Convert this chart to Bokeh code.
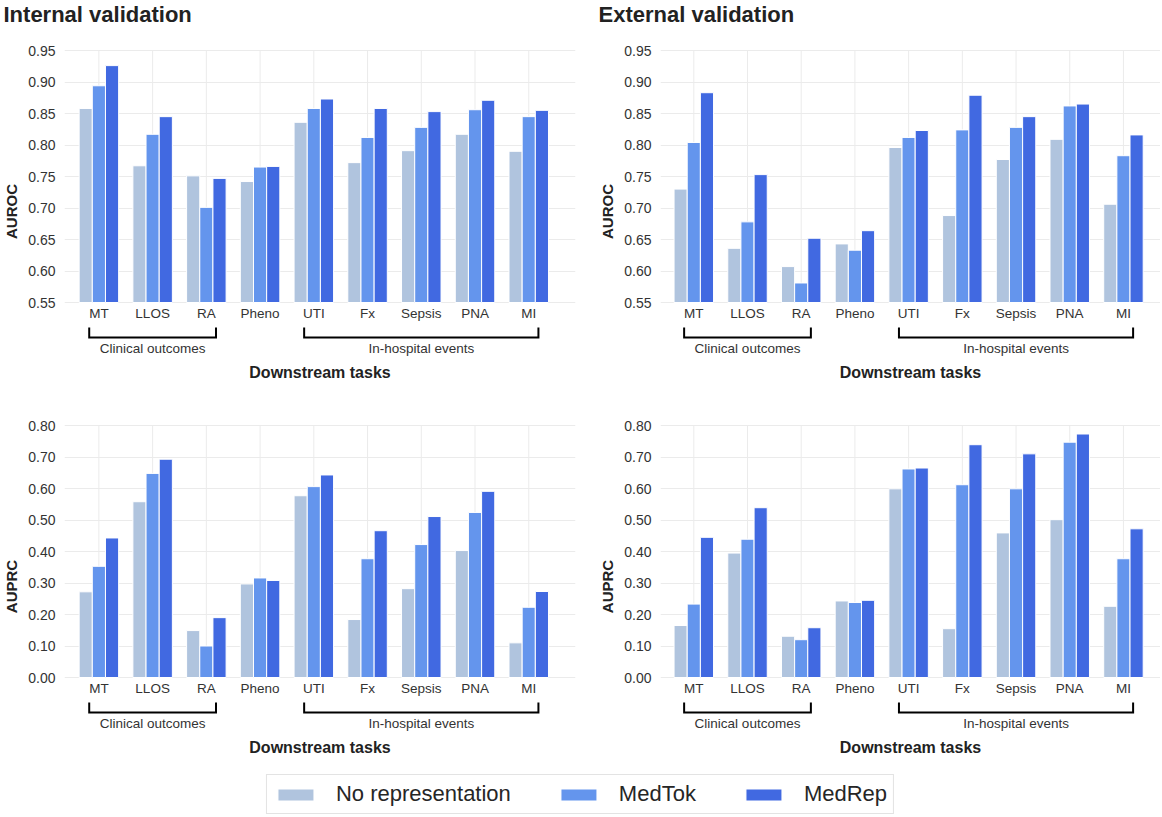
from bokeh.plotting import figure
from bokeh.layouts import column, row
from bokeh.models import Range1d, FixedTicker, NumeralTickFormatter, Legend, LegendItem
from bokeh.core.properties import value
from bokeh.embed import file_html
from bokeh.resources import INLINE

# ---------------- data ----------------
tasks = ["MT", "LLOS", "RA", "Pheno", "UTI", "Fx", "Sepsis", "PNA", "MI"]
methods = ["No representation", "MedTok", "MedRep"]
colors = ["#B0C4DE", "#6495ED", "#4169E1"]
groups = [("Clinical outcomes", "MT", "RA"), ("In-hospital events", "UTI", "MI")]
panel_titles = ["Internal validation", "External validation"]

int_auroc_none = [0.858, 0.767, 0.751, 0.742, 0.836, 0.772, 0.791, 0.817, 0.790]
int_auroc_medtok = [0.894, 0.817, 0.701, 0.765, 0.858, 0.812, 0.828, 0.856, 0.845]
int_auroc_medrep = [0.926, 0.845, 0.747, 0.766, 0.873, 0.858, 0.853, 0.871, 0.855]

ext_auroc_none = [0.730, 0.636, 0.607, 0.643, 0.796, 0.688, 0.777, 0.809, 0.706]
ext_auroc_medtok = [0.804, 0.678, 0.581, 0.633, 0.812, 0.824, 0.828, 0.862, 0.783]
ext_auroc_medrep = [0.883, 0.753, 0.652, 0.664, 0.823, 0.879, 0.845, 0.865, 0.816]

int_auprc_none = [0.272, 0.558, 0.149, 0.297, 0.577, 0.184, 0.282, 0.403, 0.110]
int_auprc_medtok = [0.353, 0.648, 0.100, 0.316, 0.606, 0.377, 0.422, 0.524, 0.223]
int_auprc_medrep = [0.443, 0.693, 0.190, 0.308, 0.643, 0.466, 0.511, 0.591, 0.273]

ext_auprc_none = [0.165, 0.395, 0.131, 0.243, 0.599, 0.155, 0.459, 0.501, 0.226]
ext_auprc_medtok = [0.233, 0.439, 0.120, 0.238, 0.662, 0.612, 0.599, 0.747, 0.377]
ext_auprc_medrep = [0.445, 0.539, 0.158, 0.245, 0.665, 0.739, 0.710, 0.773, 0.472]

FONT = "Liberation Sans"
TOTAL_W = 1160
LEFT_W = 596


def make_panel(series, ylabel, lo, hi, step, width, height, top_border,
               right_border, x0, x1):
    frame_h = height - top_border
    pad_top, span = 8, 252
    dpp = (hi - lo) / span
    y_end = hi + pad_top * dpp
    y_start = y_end - frame_h * dpp
    p = figure(width=width, height=height, x_range=Range1d(x0, x1),
               y_range=Range1d(y_start, y_end), output_backend="svg",
               toolbar_location=None, tools="", x_axis_location=None,
               min_border_top=top_border, min_border_bottom=0,
               min_border_right=right_border, min_border_left=0)
    p.outline_line_color = None
    p.background_fill_color = "white"
    p.xgrid.visible = False
    p.ygrid.grid_line_color = "#ebebeb"
    p.ygrid.grid_line_width = 1
    nt = int(round((hi - lo) / step))
    ticks = [round(lo + i * step, 2) for i in range(nt + 1)]
    ax = p.yaxis[0]
    ax.ticker = FixedTicker(ticks=ticks)
    ax.formatter = NumeralTickFormatter(format="0.00")
    ax.bounds = (lo, hi)
    ax.axis_line_color = None
    ax.major_tick_line_color = None
    ax.minor_tick_line_color = None
    ax.major_label_text_font = FONT
    ax.major_label_text_font_size = "14px"
    ax.major_label_text_color = "#333333"
    ax.major_label_standoff = 3
    ax.axis_label = ylabel
    ax.axis_label_text_font = FONT
    ax.axis_label_text_font_size = "15px"
    ax.axis_label_text_font_style = "bold"
    ax.axis_label_text_color = "#222222"
    ax.axis_label_standoff = 5

    n = len(tasks)
    idx = list(range(n))
    # vertical grid lines at category centres
    p.segment(x0=idx, y0=[lo] * n, x1=idx, y1=[hi] * n,
              line_color="#ebebeb", line_width=1)
    bw = 0.245
    for k, (vals, col) in enumerate(zip(series, colors)):
        xs = [i + (k - 1) * bw for i in idx]
        p.vbar(x=xs, top=vals, bottom=lo, width=bw, fill_color=col,
               line_color="white", line_width=1)
    # category labels
    p.text(x=idx, y=[lo - 11 * dpp] * n, text=tasks, text_align="center",
           text_baseline="middle", text_font=value(FONT),
           text_font_size="13.5px", text_color="#333333")
    # group brackets and labels
    bxs, bys, gx, gt = [], [], [], []
    for name, a, b in groups:
        ia = tasks.index(a) - 0.18
        ib = tasks.index(b) + 0.18
        ytop = lo - 25 * dpp
        ybot = lo - 35 * dpp
        bxs.append([ia, ia, ib, ib])
        bys.append([ytop, ybot, ybot, ytop])
        gx.append((tasks.index(a) + tasks.index(b)) / 2)
        gt.append(name)
    p.multi_line(xs=bxs, ys=bys, line_color="black", line_width=2,
                 line_join="miter")
    p.text(x=gx, y=[lo - 46 * dpp] * len(gx), text=gt, text_align="center",
           text_baseline="middle", text_font=value(FONT),
           text_font_size="13.5px", text_color="#333333")
    p.text(x=[(x0 + x1) / 2], y=[lo - 70 * dpp], text=["Downstream tasks"],
           text_align="center", text_baseline="middle", text_font=value(FONT),
           text_font_size="16px", text_font_style="bold",
           text_color="#222222")
    return p


# ---- panel titles strip ----
title_fig = figure(width=TOTAL_W, height=33, x_range=Range1d(0, TOTAL_W),
                   y_range=Range1d(0, 33), output_backend="svg",
                   toolbar_location=None, tools="", x_axis_location=None,
                   y_axis_location=None, min_border=0)
title_fig.outline_line_color = None
title_fig.xgrid.visible = False
title_fig.ygrid.visible = False
title_fig.text(x=[3, LEFT_W + 2], y=[19, 19], text=panel_titles,
               text_align="left", text_baseline="middle",
               text_font=value(FONT), text_font_size="22px",
               text_font_style="bold", text_color="#222222")

LX = (-0.64, 8.87)
RX = (-0.62, 8.69)
p1 = make_panel([int_auroc_none, int_auroc_medtok, int_auroc_medrep], "AUROC",
                0.55, 0.95, 0.05, LEFT_W, 347, 9, 21, *LX)
p2 = make_panel([ext_auroc_none, ext_auroc_medtok, ext_auroc_medrep], "AUROC",
                0.55, 0.95, 0.05, TOTAL_W - LEFT_W, 347, 9, 0, *RX)
p3 = make_panel([int_auprc_none, int_auprc_medtok, int_auprc_medrep], "AUPRC",
                0.0, 0.8, 0.1, LEFT_W, 375, 37, 21, *LX)
p4 = make_panel([ext_auprc_none, ext_auprc_medtok, ext_auprc_medrep], "AUPRC",
                0.0, 0.8, 0.1, TOTAL_W - LEFT_W, 375, 37, 0, *RX)

leg_fig = figure(width=TOTAL_W, height=61, x_range=Range1d(0, 1),
                 y_range=Range1d(0, 1), output_backend="svg",
                 toolbar_location=None, tools="", x_axis_location=None,
                 y_axis_location=None, min_border=0)
leg_fig.outline_line_color = None
leg_fig.xgrid.visible = False
leg_fig.ygrid.visible = False
items = []
for name, col in zip(methods, colors):
    # legend-only renderer, placed outside the visible range
    r = leg_fig.vbar(x=[-5], top=[-5], width=0.5, fill_color=col,
                     line_color="white")
    items.append(LegendItem(label=name, renderers=[r]))
legend = Legend(items=items, orientation="horizontal", location="bottom_center",
                glyph_width=45, glyph_height=15, label_standoff=18,
                spacing=45, padding=6, margin=2,
                label_text_font=FONT, label_text_font_size="22px",
                label_text_color="#262626",
                border_line_color="#c8c8c8", border_line_width=1,
                background_fill_color="white")
leg_fig.add_layout(legend, "center")

layout = column(title_fig, row(p1, p2), row(p3, p4), leg_fig)

open("out.html", "w").write(file_html(layout, INLINE))
